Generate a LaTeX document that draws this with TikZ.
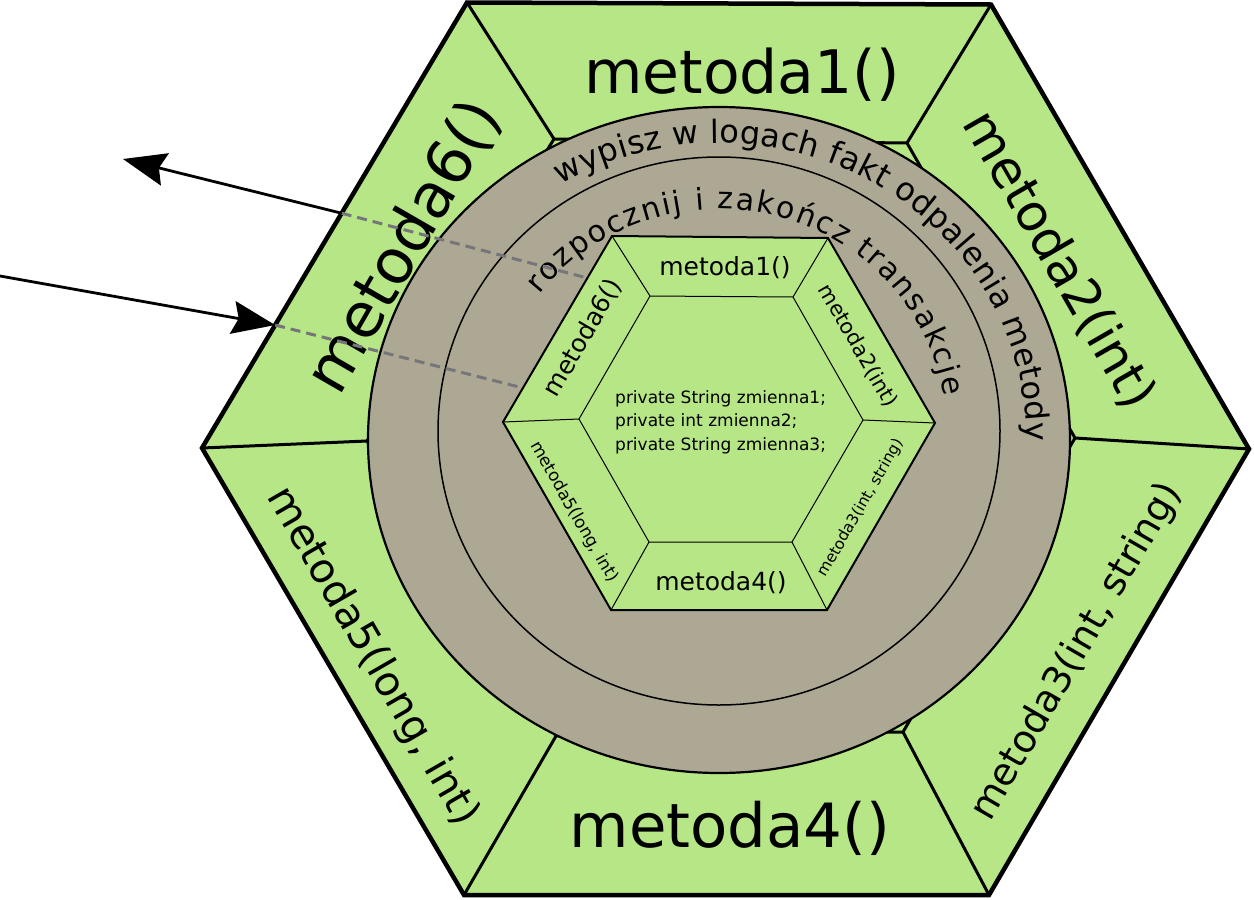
\documentclass[tikz,border=0pt]{standalone}
\usepackage{fontspec}
\setmainfont{DejaVu Sans}
\usetikzlibrary{calc,arrows.meta,decorations.text}
\definecolor{hexgreen}{RGB}{182,230,133}
\definecolor{ringgray}{RGB}{173,168,147}
\definecolor{dashgray}{RGB}{118,118,122}
\begin{document}
\begin{tikzpicture}[x=1pt,y=-1pt,
  lbl/.style={inner sep=0pt, text=black},
  thickedge/.style={line width=3pt},
  thinedge/.style={line width=1pt},
  dashlink/.style={dashgray, line width=3pt, dash pattern=on 10pt off 6pt},
  callarrow/.style={line width=2.8pt, -{Stealth[length=43pt, width=33pt, inset=6pt]}}]
\useasboundingbox (0,0) rectangle (1254,900);

% outer hexagon
\coordinate (oL) at (202,448);
\coordinate (oTL) at (467,2.5);
\coordinate (oTR) at (991,4.5);
\coordinate (oR) at (1249,449);
\coordinate (oBR) at (989,895);
\coordinate (oBL) at (464,895);
% hidden hexagon under the ring
\coordinate (hL) at (367,441);
\coordinate (hTL) at (554,139);
\coordinate (hTR) at (907,143);
\coordinate (hR) at (1075,438);
\coordinate (hBR) at (903,732);
\coordinate (hBL) at (556,736);
% inner hexagon
\coordinate (iL) at (503,422);
\coordinate (iTL) at (612,236);
\coordinate (iTR) at (828,238);
\coordinate (iR) at (935,423);
\coordinate (iBR) at (827,610);
\coordinate (iBL) at (611,610);
% core hexagon
\coordinate (jL) at (579,419);
\coordinate (jTL) at (650,296);
\coordinate (jTR) at (793,297);
\coordinate (jR) at (863,420);
\coordinate (jBR) at (792,542);
\coordinate (jBL) at (649,542);

\fill[hexgreen] (oL)--(oTL)--(oTR)--(oR)--(oBR)--(oBL)--cycle;
\draw[thickedge] (hL)--(hTL)--(hTR)--(hR)--(hBR)--(hBL)--cycle;
\foreach \v in {L,TL,TR,R,BR,BL} \draw[thickedge] (o\v)--(h\v);
\draw[line width=4.5pt, line join=miter] (oL)--(oTL)--(oTR)--(oR)--(oBR)--(oBL)--cycle;

% ring
\filldraw[fill=ringgray, line width=2.2pt] (719,440) ellipse [x radius=351, y radius=333];
\draw[line width=1.5pt] (719,431) ellipse [x radius=281, y radius=274];

% inner hexagon
\filldraw[fill=hexgreen, line width=2pt, line join=miter] (iL)--(iTL)--(iTR)--(iR)--(iBR)--(iBL)--cycle;
\draw[thinedge] (jL)--(jTL)--(jTR)--(jR)--(jBR)--(jBL)--cycle;
\foreach \v in {L,TL,TR,R,BR,BL} \draw[thinedge] (i\v)--(j\v);

% outer labels
\node[lbl, font=\fontsize{60}{60}\selectfont] (o1) at (742,75) {metoda1()};
\node[lbl, font=\fontsize{51}{51}\selectfont, rotate=-60] (o2) at (1059,260) {metoda2(int)};
\node[lbl, font=\fontsize{38}{38}\selectfont, rotate=60] (o3) at (1077,652) {metoda3(int, string)};
\node[lbl, font=\fontsize{61}{61}\selectfont] (o4) at (730,828) {metoda4()};
\node[lbl, font=\fontsize{41}{41}\selectfont, rotate=-60] (o5) at (372,657) {metoda5(long, int)};
\node[lbl, font=\fontsize{62}{62}\selectfont, rotate=60] (o6) at (404,247) {metoda6()};

% inner labels
\node[lbl, font=\fontsize{25}{25}\selectfont] (i1) at (725,268) {metoda1()};
\node[lbl, font=\fontsize{21}{21}\selectfont, rotate=-60] (i2) at (858,346) {metoda2(int)};
\node[lbl, font=\fontsize{15.5}{15.5}\selectfont, rotate=60] (i3) at (861,508) {metoda3(int, string)};
\node[lbl, font=\fontsize{25}{25}\selectfont] (i4) at (721,583) {metoda4()};
\node[lbl, font=\fontsize{17}{17}\selectfont, rotate=-60] (i5) at (574,512) {metoda5(long, int)};
\node[lbl, font=\fontsize{25}{25}\selectfont, rotate=60] (i6) at (583,338) {metoda6()};
\node[lbl, anchor=west, align=left, font=\fontsize{17}{23.5}\selectfont] (fields) at (615,422)
  {private String zmienna1;\\private int zmienna2;\\private String zmienna3;};

% curved texts
\path[decorate, decoration={text along path, text align={fit to path},
  text={|\fontsize{32}{32}\selectfont|wypisz w logach fakt odpalenia metody}}]
  (719,436) ++(-121:307 and 293) arc[start angle=-121, end angle=1, x radius=307, y radius=293];
\path[decorate, decoration={text along path, text align={fit to path},
  text={|\fontsize{30}{30}\selectfont|rozpocznij i zakończ transakcje}}]
  (719,431) ++(-142:228 and 222) arc[start angle=-142, end angle=-9, x radius=228, y radius=222];

% arrows and dashed links
\coordinate (a1s) at ($(oL)!0.527!(oTL)$);
\coordinate (a1e) at (123,159);
\coordinate (a2s) at (0,276);
\coordinate (a2e) at ($(oL)!0.276!(oTL)$);
\coordinate (d1e) at ($(iL)!0.774!(iTL)$);
\coordinate (d2e) at ($(iL)!0.183!(iTL)$);
\draw[dashlink] (a1s)--(d1e);
\draw[dashlink] (a2e)--(d2e);
\draw[callarrow] (a1s)--(a1e);
\draw[callarrow] (a2s)--(a2e);
\end{tikzpicture}
\end{document}
